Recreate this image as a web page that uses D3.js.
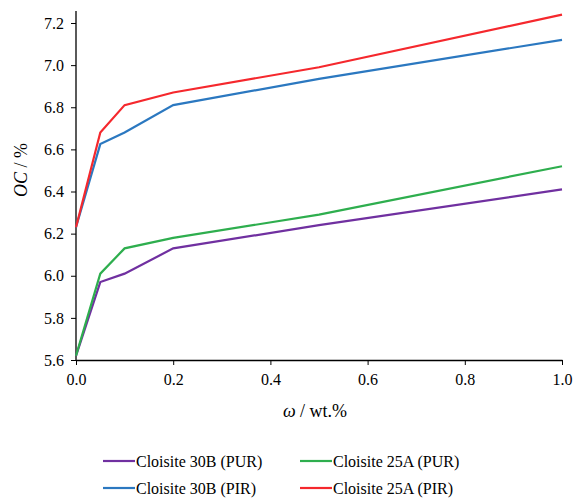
<!DOCTYPE html>
<html>
<head>
<meta charset="utf-8">
<script src="https://cdn.jsdelivr.net/npm/d3@7"></script>
<style>
body { margin: 0; background: #fff; }
</style>
</head>
<body>
<div class="chart-container"></div>
<script>
// data
xs = [0, 0.05, 0.1, 0.2, 0.5, 1.0]
pur30B = [5.62, 5.97, 6.01, 6.13, 6.24, 6.41]
pur25A = [5.62, 6.01, 6.13, 6.18, 6.29, 6.52]
pir30B = [6.23, 6.625, 6.68, 6.81, 6.935, 7.12]
pir25A = [6.23, 6.68, 6.81, 6.87, 6.99, 7.24]
names = ["Cloisite 30B (PUR)", "Cloisite 25A (PUR)", "Cloisite 30B (PIR)", "Cloisite 25A (PIR)"]
colors = ["#7030a0", "#2eae4e", "#2b78c0", "#f5282d"]
xTicks = [0, 0.2, 0.4, 0.6, 0.8, 1.0]
yTicks = [5.6, 5.8, 6.0, 6.2, 6.4, 6.6, 6.8, 7.0, 7.2]

series = [pur30B, pur25A, pir30B, pir25A]
font = "'Liberation Serif', 'Times New Roman', Times, 'DejaVu Serif', serif"

svg = d3.select(".chart-container").append("svg").attr("width", 577).attr("height", 499)
  .style("font-family", font)

x = d3.scaleLinear().domain([0, 1]).range([76, 562])
y = d3.scaleLinear().domain([5.6, 7.2]).range([360, 23])

// y axis
yAxis = svg.append("g").attr("transform", "translate(76,0)")
  .call(d3.axisLeft(y).tickValues(yTicks).tickFormat(d3.format(".1f")).tickSize(5).tickSizeOuter(0))
yAxis.attr("font-family", null)
yAxis.select(".domain").attr("d", "M0,11V360").attr("stroke", "#000").attr("stroke-width", 1.3)
yAxis.selectAll("text").attr("font-size", 16).attr("fill", "#000").attr("x", -12)

// x axis
xAxis = svg.append("g").attr("transform", "translate(0,360)")
  .call(d3.axisBottom(x).tickValues(xTicks).tickFormat(d3.format(".1f")).tickSize(5).tickSizeOuter(0))
xAxis.attr("font-family", null)
xAxis.select(".domain").attr("stroke", "#000").attr("stroke-width", 1.3)
xAxis.selectAll("text").attr("font-size", 16).attr("fill", "#000").attr("dy", "1.05em")

// lines
line = d3.line().x((d, i) => x(xs[i])).y(d => y(d))
svg.selectAll(".series").data(series).enter().append("path")
  .attr("class", "series")
  .attr("d", d => line(d))
  .attr("fill", "none")
  .attr("stroke", (d, i) => colors[i])
  .attr("stroke-width", 2.2)

// axis titles
yt = svg.append("text").attr("transform", "translate(27,170) rotate(-90)")
  .attr("text-anchor", "middle").attr("font-size", 18)
yt.append("tspan").attr("font-style", "italic").text("OC")
yt.append("tspan").text(" / %")

xt = svg.append("text").attr("x", 315).attr("y", 417).attr("text-anchor", "middle").attr("font-size", 18)
xt.append("tspan").attr("font-style", "italic").text("ω")
xt.append("tspan").text(" / wt.%")

// legend
legendPos = [[103, 461], [300, 461], [103, 488], [300, 488]]
lg = svg.selectAll(".leg").data(names).enter().append("g").attr("class", "leg")
  .attr("transform", (d, i) => "translate(" + legendPos[i][0] + "," + legendPos[i][1] + ")")
lg.append("line").attr("x1", 0).attr("x2", 32).attr("y1", 0).attr("y2", 0)
  .attr("stroke", (d, i) => colors[i]).attr("stroke-width", 2.2)
lg.append("text").attr("x", 33).attr("y", 5.5).attr("font-size", 16).text(d => d)
</script>
</body>
</html>
